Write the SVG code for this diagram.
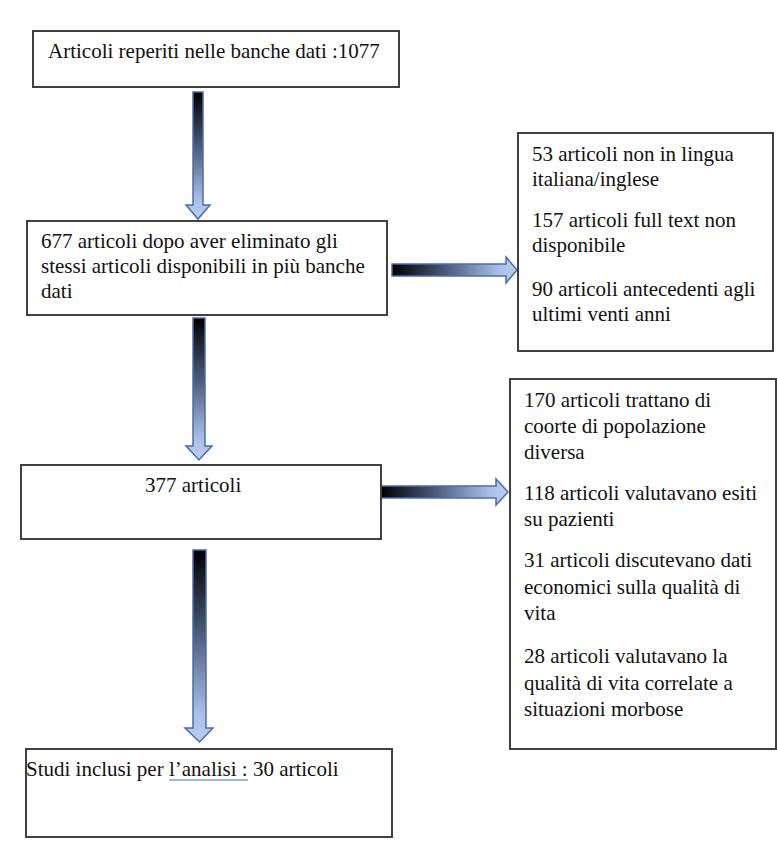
<svg xmlns="http://www.w3.org/2000/svg" width="777" height="859" viewBox="0 0 777 859">
<style>
.box{fill:#fff;stroke:#404040;stroke-width:2}
.t{font-family:'Liberation Serif','Times New Roman',serif;font-size:21px;fill:#111}
.arr{stroke:#4a6dab;stroke-width:1.5;stroke-linejoin:miter}
</style>
<defs>
<linearGradient id="gv" x1="0" y1="0" x2="0" y2="1">
<stop offset="0" stop-color="#000"/>
<stop offset="0.45" stop-color="#4f5f7e"/>
<stop offset="0.85" stop-color="#a9bee7"/>
<stop offset="1" stop-color="#bccdee"/>
</linearGradient>
<linearGradient id="gh" x1="0" y1="0" x2="1" y2="0">
<stop offset="0" stop-color="#000"/>
<stop offset="0.45" stop-color="#4f5f7e"/>
<stop offset="0.85" stop-color="#a9bee7"/>
<stop offset="1" stop-color="#bccdee"/>
</linearGradient>
</defs>
<rect width="777" height="859" fill="#fff"/>
<g id="connectors">
<path class="arr" fill="url(#gv)" d="M193,92 H203 V205 H210 L198,219 L186,205 H193 Z"/>
<path class="arr" fill="url(#gv)" d="M193,318 H205 V446 H212 L199,460 L186,446 H193 Z"/>
<path class="arr" fill="url(#gv)" d="M193,550 H206 V728 H213 L199.5,742 L185,728 H193 Z"/>
<path class="arr" fill="url(#gh)" d="M392,264 H506 V257 L517,270 L506,283 V276 H392 Z"/>
<path class="arr" fill="url(#gh)" d="M381,486 H496 V479 L508,492 L496,505 V498 H381 Z"/>
</g>
<g id="n1">
<rect class="box" x="33" y="31" width="366" height="56"/>
<text class="t" x="48" y="58">Articoli reperiti nelle banche dati :1077</text>
</g>
<g id="n2">
<rect class="box" x="27" y="221" width="360" height="94"/>
<text class="t" x="41" y="248">677 articoli dopo aver eliminato gli</text>
<text class="t" x="41" y="273">stessi articoli disponibili in più banche</text>
<text class="t" x="41" y="298">dati</text>
</g>
<g id="n3">
<rect class="box" x="21" y="465" width="360" height="74"/>
<text class="t" x="145" y="492">377 articoli</text>
</g>
<g id="n4">
<rect class="box" x="26" y="749" width="366" height="88"/>
<text class="t" x="26" y="776">Studi inclusi per l’analisi : 30 articoli</text>
<path d="M169,780 H248" stroke="#4472c4" stroke-width="1.2" fill="none"/>
</g>
<g id="n5">
<rect class="box" x="518" y="133" width="255" height="218"/>
<text class="t" x="532" y="161">53 articoli non in lingua</text>
<text class="t" x="532" y="186">italiana/inglese</text>
<text class="t" x="532" y="227">157 articoli full text non</text>
<text class="t" x="532" y="252">disponibile</text>
<text class="t" x="532" y="296">90 articoli antecedenti agli</text>
<text class="t" x="532" y="321">ultimi venti anni</text>
</g>
<g id="n6">
<rect class="box" x="510" y="379" width="266" height="370"/>
<text class="t" x="524" y="407">170 articoli trattano di</text>
<text class="t" x="524" y="433">coorte di popolazione</text>
<text class="t" x="524" y="459">diversa</text>
<text class="t" x="524" y="500">118 articoli valutavano esiti</text>
<text class="t" x="524" y="526">su pazienti</text>
<text class="t" x="524" y="567">31 articoli discutevano dati</text>
<text class="t" x="524" y="594">economici sulla qualità di</text>
<text class="t" x="524" y="620">vita</text>
<text class="t" x="524" y="663">28 articoli valutavano la</text>
<text class="t" x="524" y="690">qualità di vita correlate a</text>
<text class="t" x="524" y="716">situazioni morbose</text>
</g>
</svg>
